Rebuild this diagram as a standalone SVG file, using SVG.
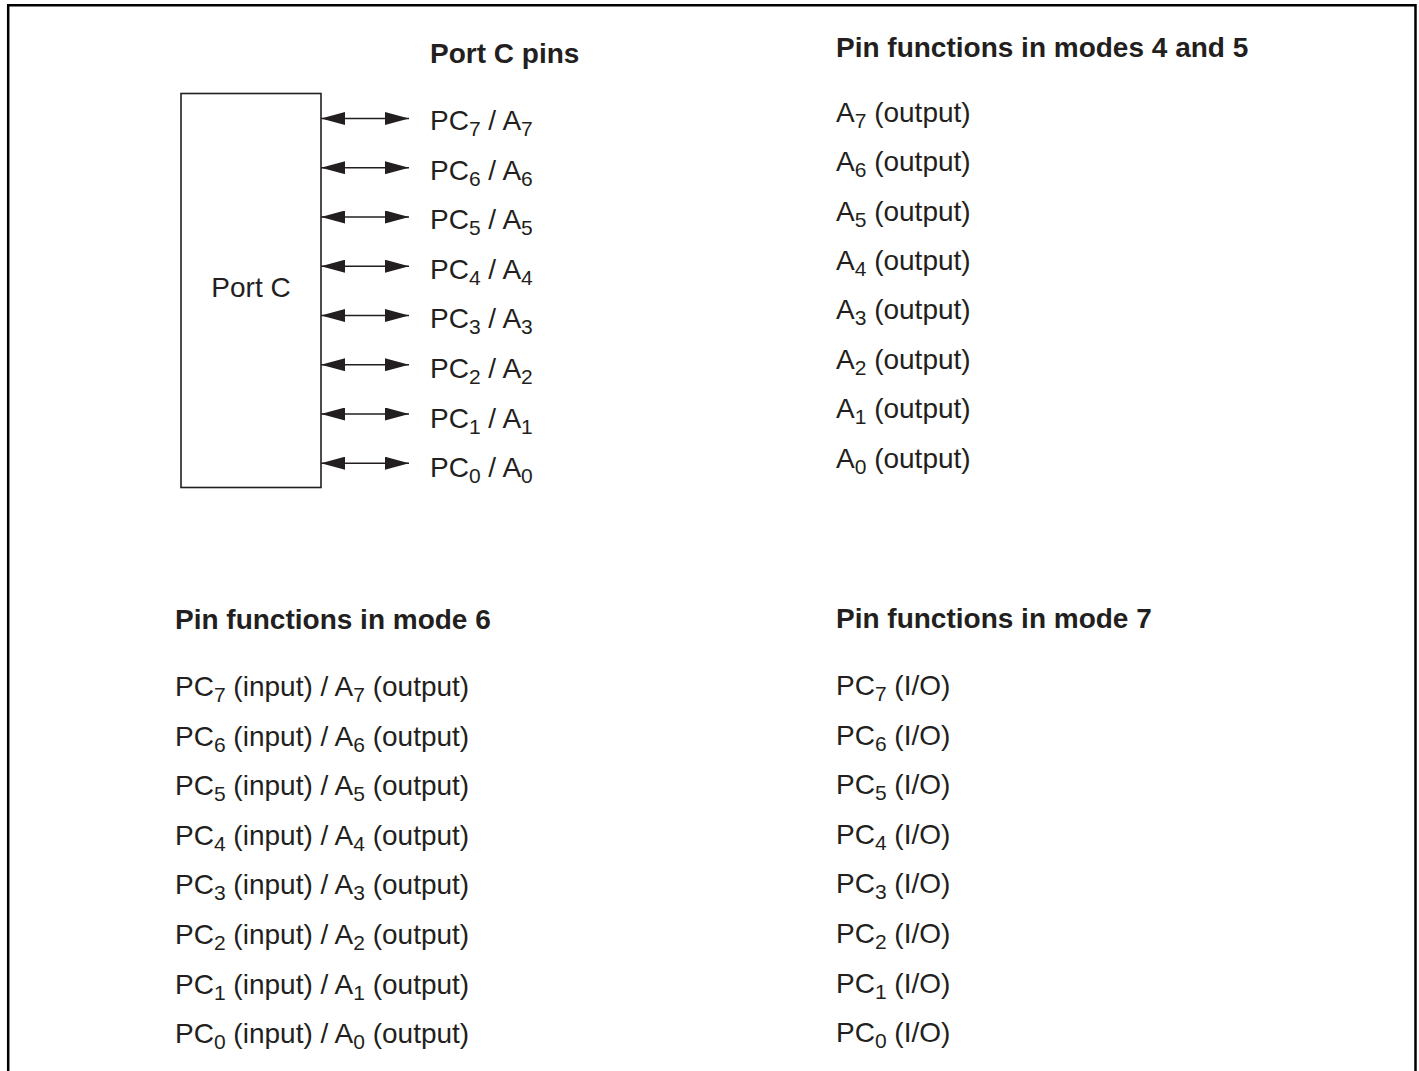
<svg xmlns="http://www.w3.org/2000/svg" width="1419" height="1071" viewBox="0 0 1419 1071">
<style>
text { font-family: "Liberation Sans", Arial, sans-serif; fill: #231f20; }
.h { font-size: 28px; font-weight: bold; }
.t { font-size: 28px; }
.s { font-size: 21px; }
.frame { fill: none; stroke: #000; stroke-width: 2.5; }
.box { fill: #fff; stroke: #231f20; stroke-width: 1.6; }
.conn { stroke: #231f20; stroke-width: 1.4; fill: none; marker-start: url(#ah); marker-end: url(#ah); }
</style>
<defs>
<marker id="ah" markerUnits="userSpaceOnUse" markerWidth="24" markerHeight="13" refX="24" refY="6.5" orient="auto-start-reverse">
<path d="M0,0 L24,6.5 L0,13 z" fill="#231f20"/>
</marker>
</defs>
<rect width="1419" height="1071" fill="#fff"/>
<path class="frame" d="M8.2,1071 L8.2,5.2 L1415.5,5.2 L1415.5,1071"/>

<g id="port-c">
<rect class="box" x="181" y="93.5" width="140" height="394"/>
<text class="t" x="251" y="297" text-anchor="middle">Port C</text>
</g>

<g id="connectors">
<line class="conn" x1="321" y1="118.5" x2="409" y2="118.5"/>
<line class="conn" x1="321" y1="167.7" x2="409" y2="167.7"/>
<line class="conn" x1="321" y1="217" x2="409" y2="217"/>
<line class="conn" x1="321" y1="266.2" x2="409" y2="266.2"/>
<line class="conn" x1="321" y1="315.5" x2="409" y2="315.5"/>
<line class="conn" x1="321" y1="364.7" x2="409" y2="364.7"/>
<line class="conn" x1="321" y1="414" x2="409" y2="414"/>
<line class="conn" x1="321" y1="463.2" x2="409" y2="463.2"/>
</g>

<g id="port-c-pins">
<text class="h" x="430" y="63">Port C pins</text>
<text class="t" x="430" y="130">PC<tspan class="s" dy="6">7</tspan><tspan dy="-6"> / A</tspan><tspan class="s" dy="6">7</tspan></text>
<text class="t" x="430" y="179.6">PC<tspan class="s" dy="6">6</tspan><tspan dy="-6"> / A</tspan><tspan class="s" dy="6">6</tspan></text>
<text class="t" x="430" y="229.2">PC<tspan class="s" dy="6">5</tspan><tspan dy="-6"> / A</tspan><tspan class="s" dy="6">5</tspan></text>
<text class="t" x="430" y="278.8">PC<tspan class="s" dy="6">4</tspan><tspan dy="-6"> / A</tspan><tspan class="s" dy="6">4</tspan></text>
<text class="t" x="430" y="328.4">PC<tspan class="s" dy="6">3</tspan><tspan dy="-6"> / A</tspan><tspan class="s" dy="6">3</tspan></text>
<text class="t" x="430" y="378">PC<tspan class="s" dy="6">2</tspan><tspan dy="-6"> / A</tspan><tspan class="s" dy="6">2</tspan></text>
<text class="t" x="430" y="427.6">PC<tspan class="s" dy="6">1</tspan><tspan dy="-6"> / A</tspan><tspan class="s" dy="6">1</tspan></text>
<text class="t" x="430" y="477.2">PC<tspan class="s" dy="6">0</tspan><tspan dy="-6"> / A</tspan><tspan class="s" dy="6">0</tspan></text>
</g>

<g id="modes-4-5">
<text class="h" x="836" y="57">Pin functions in modes 4 and 5</text>
<text class="t" x="836" y="121.7">A<tspan class="s" dy="6">7</tspan><tspan dy="-6"> (output)</tspan></text>
<text class="t" x="836" y="171.1">A<tspan class="s" dy="6">6</tspan><tspan dy="-6"> (output)</tspan></text>
<text class="t" x="836" y="220.5">A<tspan class="s" dy="6">5</tspan><tspan dy="-6"> (output)</tspan></text>
<text class="t" x="836" y="269.9">A<tspan class="s" dy="6">4</tspan><tspan dy="-6"> (output)</tspan></text>
<text class="t" x="836" y="319.3">A<tspan class="s" dy="6">3</tspan><tspan dy="-6"> (output)</tspan></text>
<text class="t" x="836" y="368.7">A<tspan class="s" dy="6">2</tspan><tspan dy="-6"> (output)</tspan></text>
<text class="t" x="836" y="418.1">A<tspan class="s" dy="6">1</tspan><tspan dy="-6"> (output)</tspan></text>
<text class="t" x="836" y="467.5">A<tspan class="s" dy="6">0</tspan><tspan dy="-6"> (output)</tspan></text>
</g>

<g id="mode-6">
<text class="h" x="175" y="629">Pin functions in mode 6</text>
<text class="t" x="175" y="696">PC<tspan class="s" dy="6">7</tspan><tspan dy="-6"> (input) / A</tspan><tspan class="s" dy="6">7</tspan><tspan dy="-6"> (output)</tspan></text>
<text class="t" x="175" y="745.6">PC<tspan class="s" dy="6">6</tspan><tspan dy="-6"> (input) / A</tspan><tspan class="s" dy="6">6</tspan><tspan dy="-6"> (output)</tspan></text>
<text class="t" x="175" y="795.2">PC<tspan class="s" dy="6">5</tspan><tspan dy="-6"> (input) / A</tspan><tspan class="s" dy="6">5</tspan><tspan dy="-6"> (output)</tspan></text>
<text class="t" x="175" y="844.8">PC<tspan class="s" dy="6">4</tspan><tspan dy="-6"> (input) / A</tspan><tspan class="s" dy="6">4</tspan><tspan dy="-6"> (output)</tspan></text>
<text class="t" x="175" y="894.4">PC<tspan class="s" dy="6">3</tspan><tspan dy="-6"> (input) / A</tspan><tspan class="s" dy="6">3</tspan><tspan dy="-6"> (output)</tspan></text>
<text class="t" x="175" y="944">PC<tspan class="s" dy="6">2</tspan><tspan dy="-6"> (input) / A</tspan><tspan class="s" dy="6">2</tspan><tspan dy="-6"> (output)</tspan></text>
<text class="t" x="175" y="993.6">PC<tspan class="s" dy="6">1</tspan><tspan dy="-6"> (input) / A</tspan><tspan class="s" dy="6">1</tspan><tspan dy="-6"> (output)</tspan></text>
<text class="t" x="175" y="1043.2">PC<tspan class="s" dy="6">0</tspan><tspan dy="-6"> (input) / A</tspan><tspan class="s" dy="6">0</tspan><tspan dy="-6"> (output)</tspan></text>
</g>

<g id="mode-7">
<text class="h" x="836" y="628">Pin functions in mode 7</text>
<text class="t" x="836" y="695">PC<tspan class="s" dy="6">7</tspan><tspan dy="-6"> (I/O)</tspan></text>
<text class="t" x="836" y="744.6">PC<tspan class="s" dy="6">6</tspan><tspan dy="-6"> (I/O)</tspan></text>
<text class="t" x="836" y="794.2">PC<tspan class="s" dy="6">5</tspan><tspan dy="-6"> (I/O)</tspan></text>
<text class="t" x="836" y="843.8">PC<tspan class="s" dy="6">4</tspan><tspan dy="-6"> (I/O)</tspan></text>
<text class="t" x="836" y="893.4">PC<tspan class="s" dy="6">3</tspan><tspan dy="-6"> (I/O)</tspan></text>
<text class="t" x="836" y="943">PC<tspan class="s" dy="6">2</tspan><tspan dy="-6"> (I/O)</tspan></text>
<text class="t" x="836" y="992.6">PC<tspan class="s" dy="6">1</tspan><tspan dy="-6"> (I/O)</tspan></text>
<text class="t" x="836" y="1042.2">PC<tspan class="s" dy="6">0</tspan><tspan dy="-6"> (I/O)</tspan></text>
</g>
</svg>
